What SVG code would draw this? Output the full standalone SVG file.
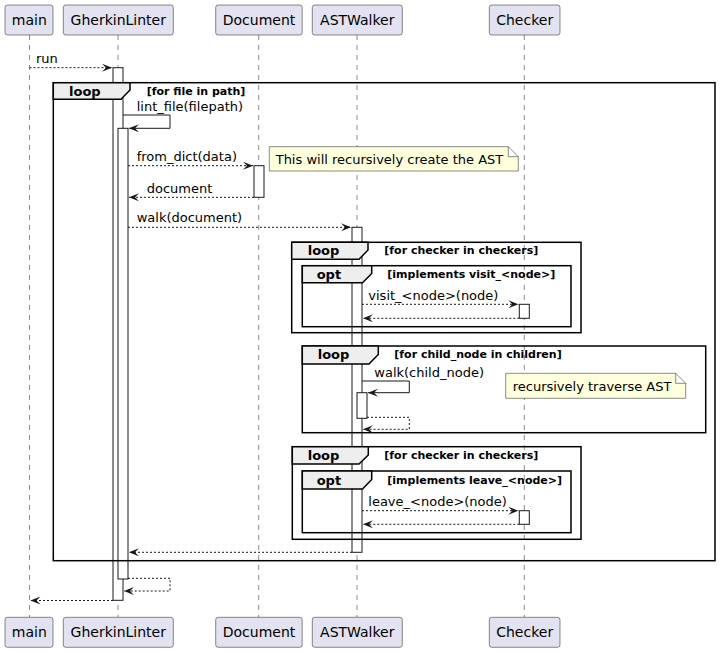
<svg xmlns="http://www.w3.org/2000/svg" width="720" height="652" viewBox="0 0 720 652">
<defs>
<marker id="ah" markerUnits="userSpaceOnUse" markerWidth="11" markerHeight="9" refX="10" refY="4" orient="auto">
<path d="M0,0 L10,4 L0,8 L4,4 Z" fill="#181818"/>
</marker>
<style>
.part rect{fill:#E2E2F0;stroke:#181818;stroke-width:0.5}
.part text{font-family:"DejaVu Sans",sans-serif;font-size:14px;fill:#000;text-anchor:middle}
.life{stroke:#181818;stroke-width:0.5;stroke-dasharray:5,5}
.act{fill:#FFFFFF;stroke:#181818;stroke-width:1}
.msg{fill:none;stroke:#181818;stroke-width:1;marker-end:url(#ah)}
.dash{stroke-dasharray:2,2}
.lbl{font-family:"DejaVu Sans",sans-serif;font-size:13px;fill:#000}
.frame{fill:none;stroke:#000;stroke-width:1.5}
.tab{fill:#EEEEEE;stroke:#000;stroke-width:1.5}
.ft{font-family:"DejaVu Sans",sans-serif;font-size:13px;font-weight:bold;fill:#000}
.fc{font-family:"DejaVu Sans",sans-serif;font-size:11px;font-weight:bold;fill:#000}
.note path{fill:#FEFFDD;stroke:#181818;stroke-width:0.5}
.note text{font-family:"DejaVu Sans",sans-serif;font-size:13px;fill:#000}
</style>
</defs>
<rect width="720" height="652" fill="#FFFFFF"/>
<g id="lifelines">
<line class="life" x1="29.5" y1="35" x2="29.5" y2="617"/>
<line class="life" x1="118" y1="35" x2="118" y2="617"/>
<line class="life" x1="258.7" y1="35" x2="258.7" y2="617"/>
<line class="life" x1="357" y1="35" x2="357" y2="617"/>
<line class="life" x1="524.3" y1="35" x2="524.3" y2="617"/>
</g>
<g id="p-main" class="part">
<rect x="5" y="5" width="48" height="30" rx="2.5"/><text x="29.3" y="25">main</text>
<rect x="5" y="617.3" width="48" height="30" rx="2.5"/><text x="29.3" y="637.3">main</text>
</g>
<g id="p-gherkin" class="part">
<rect x="63.3" y="5" width="110" height="30" rx="2.5"/><text x="118.3" y="25">GherkinLinter</text>
<rect x="63.3" y="617.3" width="110" height="30" rx="2.5"/><text x="118.3" y="637.3">GherkinLinter</text>
</g>
<g id="p-document" class="part">
<rect x="215.7" y="5" width="86.5" height="30" rx="2.5"/><text x="259" y="25">Document</text>
<rect x="215.7" y="617.3" width="86.5" height="30" rx="2.5"/><text x="259" y="637.3">Document</text>
</g>
<g id="p-astwalker" class="part">
<rect x="312.3" y="5" width="90" height="30" rx="2.5"/><text x="357.3" y="25">ASTWalker</text>
<rect x="312.3" y="617.3" width="90" height="30" rx="2.5"/><text x="357.3" y="637.3">ASTWalker</text>
</g>
<g id="p-checker" class="part">
<rect x="489.3" y="5" width="70.7" height="30" rx="2.5"/><text x="524.7" y="25">Checker</text>
<rect x="489.3" y="617.3" width="70.7" height="30" rx="2.5"/><text x="524.7" y="637.3">Checker</text>
</g>
<g id="activations">
<rect class="act" x="113" y="67.7" width="10" height="532.6"/>
<rect class="act" x="118" y="128.3" width="10" height="450.7"/>
<rect class="act" x="254" y="165.7" width="10" height="31.6"/>
<rect class="act" x="352" y="227.3" width="10" height="325"/>
<rect class="act" x="357" y="392.7" width="10" height="25.6"/>
<rect class="act" x="519.3" y="304.3" width="10" height="14"/>
<rect class="act" x="519.3" y="510.7" width="10" height="13.6"/>
</g>
<g id="frames">
<g id="f-loop-file">
<rect class="frame" x="53.3" y="82.7" width="661.7" height="478"/>
<path class="tab" d="M53.3,82.7 H130 V90 L121,99.3 H53.3 Z"/>
<text class="ft" x="69" y="95.5">loop</text>
<text class="fc" x="146.7" y="94.5">[for file in path]</text>
</g>
<g id="f-loop-checker1">
<rect class="frame" x="291.7" y="242.3" width="289.3" height="90.4"/>
<path class="tab" d="M291.7,242.3 H368 V250 L359,259.3 H291.7 Z"/>
<text class="ft" x="307.7" y="255">loop</text>
<text class="fc" x="384.3" y="254">[for checker in checkers]</text>
</g>
<g id="f-opt-visit">
<rect class="frame" x="302.3" y="265.7" width="268.7" height="61"/>
<path class="tab" d="M302.3,265.7 H371.7 V273.5 L362.5,282.7 H302.3 Z"/>
<text class="ft" x="316.7" y="278.5">opt</text>
<text class="fc" x="387.3" y="277.5">[implements visit_&lt;node&gt;]</text>
</g>
<g id="f-loop-children">
<rect class="frame" x="302.3" y="346" width="403.4" height="86.7"/>
<path class="tab" d="M302.3,346 H378.3 V354.5 L369,364 H302.3 Z"/>
<text class="ft" x="317.7" y="359">loop</text>
<text class="fc" x="394.3" y="358">[for child_node in children]</text>
</g>
<g id="f-loop-checker2">
<rect class="frame" x="292.3" y="446.7" width="288.7" height="92.6"/>
<path class="tab" d="M292.3,446.7 H368.3 V455 L359,464 H292.3 Z"/>
<text class="ft" x="307.7" y="459.5">loop</text>
<text class="fc" x="384.3" y="458.5">[for checker in checkers]</text>
</g>
<g id="f-opt-leave">
<rect class="frame" x="302.3" y="471" width="268.7" height="61.7"/>
<path class="tab" d="M302.3,471 H371.7 V479.5 L362.5,489 H302.3 Z"/>
<text class="ft" x="316.7" y="484.5">opt</text>
<text class="fc" x="387.3" y="483.5">[implements leave_&lt;node&gt;]</text>
</g>
</g>
<g id="notes">
<g id="n-ast" class="note">
<path d="M269.3,146.7 H508.3 L518.3,156.7 V171 H269.3 Z M508.3,146.7 V156.7 H518.3"/>
<text x="275.7" y="163.5">This will recursively create the AST</text>
</g>
<g id="n-traverse" class="note">
<path d="M505.7,373.3 H675.7 L685.7,383.3 V398.3 H505.7 Z M675.7,373.3 V383.3 H685.7"/>
<text x="512.7" y="390.5">recursively traverse AST</text>
</g>
</g>
<g id="connectors">
<path class="msg dash" d="M29.5,67.7 H112"/>
<text class="lbl" x="36" y="62.5">run</text>
<path class="msg" d="M123,115 H170 V128.3 H129"/>
<text class="lbl" x="136.7" y="111">lint_file(filepath)</text>
<path class="msg dash" d="M128,165.7 H253"/>
<text class="lbl" x="136.7" y="161">from_dict(data)</text>
<path class="msg dash" d="M254,197.3 H129"/>
<text class="lbl" x="146.7" y="192.5">document</text>
<path class="msg dash" d="M128,227.3 H351"/>
<text class="lbl" x="136.7" y="221.5">walk(document)</text>
<path class="msg dash" d="M362,304.3 H518.3"/>
<text class="lbl" x="368.3" y="299.5">visit_&lt;node&gt;(node)</text>
<path class="msg dash" d="M519.3,318.3 H363"/>
<path class="msg" d="M362,381 H409.3 V392.7 H368"/>
<text class="lbl" x="374.3" y="376.5">walk(child_node)</text>
<path class="msg dash" d="M367,417.3 H409.3 V429.3 H363"/>
<path class="msg dash" d="M362,510.7 H518.3"/>
<text class="lbl" x="368.3" y="505.5">leave_&lt;node&gt;(node)</text>
<path class="msg dash" d="M519.3,524.3 H363"/>
<path class="msg dash" d="M352,552.3 H129"/>
<path class="msg dash" d="M128,578.3 H170 V591 H124"/>
<path class="msg dash" d="M113,600.5 H30.5"/>
</g>
</svg>
